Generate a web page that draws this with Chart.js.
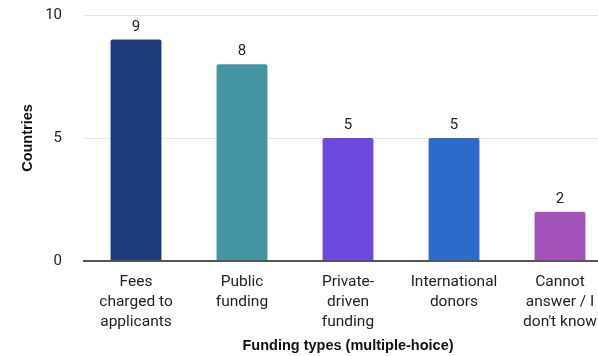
<!DOCTYPE html>
<html>
<head>
<meta charset="utf-8">
<script src="https://cdn.jsdelivr.net/npm/chart.js@4/dist/chart.umd.min.js"></script>
<style>
  html, body { margin: 0; padding: 0; background: #fff; overflow: hidden; }
  #wrap { width: 625px; height: 356px; }
</style>
</head>
<body>
<div id="wrap"><canvas id="funding_chart"></canvas></div>
<script>
const categories = [
  ["Fees", "charged to", "applicants"],
  ["Public", "funding"],
  ["Private-", "driven", "funding"],
  ["International", "donors"],
  ["Cannot", "answer / I", "don't know"],
];
const countries = [9, 8, 5, 5, 2];
const barColors = ["#1b3e7b", "#4395a2", "#6c49df", "#2d6bca", "#a453ba"];
const yTicks = [0, 5, 10];

Chart.defaults.font.family = "Roboto";
Chart.defaults.color = "#222";

const valueLabels = {
  id: "valueLabels",
  afterDatasetsDraw(chart) {
    const ctx = chart.ctx;
    ctx.save();
    ctx.font = "15px Roboto";
    ctx.fillStyle = "#222";
    ctx.textAlign = "center";
    ctx.textBaseline = "bottom";
    chart.getDatasetMeta(0).data.forEach((bar, i) => {
      ctx.fillText(countries[i], bar.x, bar.y - 5);
    });
    ctx.restore();
  }
};

const ctx = document.getElementById("funding_chart").getContext("2d");
new Chart(ctx, {
  type: "bar",
  data: {
    labels: categories,
    datasets: [{
      label: "Countries",
      data: countries,
      backgroundColor: barColors,
      borderRadius: 2,
      borderSkipped: "bottom",
      barPercentage: 0.48,
      categoryPercentage: 1,
    }],
  },
  options: {
    responsive: true,
    maintainAspectRatio: false,
    animation: false,
    layout: { padding: { top: 15, right: 12, left: 0, bottom: 0 } },
    plugins: {
      legend: { display: false },
      tooltip: { enabled: false },
    },
    scales: {
      x: {
        grid: { display: false, drawTicks: false },
        border: { display: false },
        ticks: { font: { size: 15.5, lineHeight: 1.29 }, padding: 11, maxRotation: 0, autoSkip: false },
        title: {
          display: true,
          text: "Funding types (multiple-hoice)",
          font: { family: "Liberation Sans", size: 14.5, weight: "bold" },
          color: "#111",
          padding: { top: 0, bottom: 1 },
        },
        afterFit: (s) => { s.height = 95; s.paddingLeft = 0; s.paddingRight = 0; },
      },
      y: {
        min: 0,
        max: 10,
        afterBuildTicks: (s) => { s.ticks = yTicks.map(v => ({ value: v })); },
        grid: {
          drawTicks: false,
          color: (c) => c.tick && c.tick.value === 0 ? "#555" : "#e6e6e6",
          lineWidth: (c) => c.tick && c.tick.value === 0 ? 2 : 1,
        },
        border: { display: false },
        ticks: { font: { size: 15 }, padding: 21 },
        title: {
          display: true,
          text: "Countries",
          font: { family: "Liberation Sans", size: 14.5, weight: "bold" },
          color: "#111",
          padding: { top: 19, bottom: 0 },
        },
        afterFit: (s) => { s.width = 83; s.paddingTop = 0; s.paddingBottom = 0; },
      },
    },
  },
  plugins: [valueLabels],
});
</script>
</body>
</html>
